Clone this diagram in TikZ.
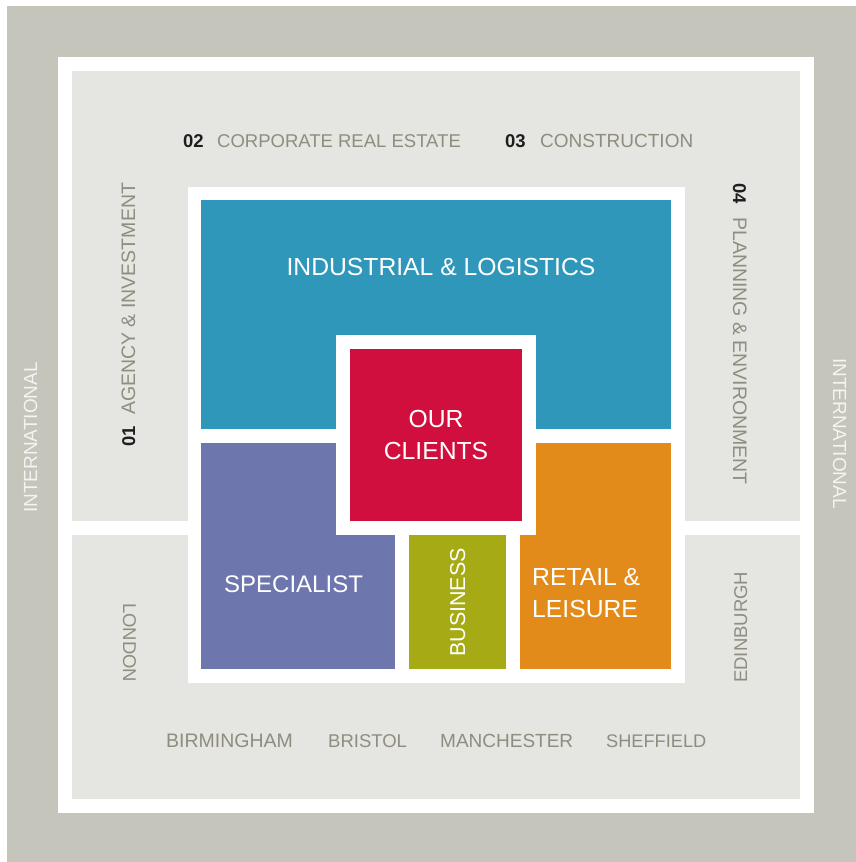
\documentclass[tikz,border=0pt]{standalone}
\usepackage{fontspec}
\setmainfont{Liberation Sans}
\definecolor{outerGrey}{HTML}{C6C5BC}
\definecolor{panelGrey}{HTML}{E5E5E1}
\definecolor{txtGrey}{HTML}{8E8D80}
\definecolor{numDark}{HTML}{1E1E1E}
\definecolor{blockBlue}{HTML}{2F97BA}
\definecolor{blockRed}{HTML}{D10F3F}
\definecolor{blockPurple}{HTML}{6E76AE}
\definecolor{blockGreen}{HTML}{A6AB15}
\definecolor{blockOrange}{HTML}{E28B1A}
\definecolor{softWhite}{HTML}{F4F4F0}
\begin{document}
\begin{tikzpicture}[x=1pt,y=-1pt,
  lbl/.style={text=txtGrey, font=\fontsize{18.5}{22}\selectfont, inner sep=0pt},
  sidelbl/.style={lbl, font=\fontsize{19.5}{22}\selectfont},
  numlbl/.style={text=numDark, font=\fontsize{18.5}{22}\selectfont\bfseries, inner sep=0pt},
  biglbl/.style={text=white, font=\fontsize{24.7}{29}\selectfont, inner sep=0pt},
  intl/.style={text=softWhite, font=\fontsize{19}{22}\selectfont, inner sep=0pt}]
\useasboundingbox (0,0) rectangle (856,862);
% background and frames
\fill[white] (0,0) rectangle (856,862);
\fill[outerGrey] (7,6) rectangle (856,862);
\fill[white] (58,57) rectangle (814,813);
\fill[panelGrey] (72,71) rectangle (800,521);
\fill[panelGrey] (72,535) rectangle (800,799);
% central block
\fill[white] (188,187) rectangle (685,683);
\fill[blockBlue] (201,200) rectangle (671,429);
\fill[blockPurple] (201,443) rectangle (395,669);
\fill[blockGreen] (409,535) rectangle (506,669);
\fill[blockOrange] (520,443) rectangle (671,669);
\fill[white] (336,335) rectangle (536,535);
\fill[blockRed] (350,349) rectangle (522,521);
% service lines along the top
\node[numlbl, anchor=base west] (n02) at (183,147) {02};
\node[lbl, anchor=base west] (cre) at (217,147) {CORPORATE REAL ESTATE};
\node[numlbl, anchor=base west] (n03) at (505,147) {03};
\node[lbl, anchor=base west, font=\fontsize{19}{22}\selectfont] (con) at (540,147) {CONSTRUCTION};
% service lines on the sides
\node[numlbl, rotate=90, anchor=base west] (n01) at (135,447) {01};
\node[sidelbl, rotate=90, anchor=base west] (agi) at (135,415) {AGENCY \& INVESTMENT};
\node[numlbl, rotate=-90, anchor=base west] (n04) at (733,183) {04};
\node[sidelbl, rotate=-90, anchor=base west] (pae) at (733,217) {PLANNING \& ENVIRONMENT};
% offices
\node[lbl, rotate=-90, anchor=base west] (lon) at (123,603) {LONDON};
\node[lbl, rotate=90, anchor=base west] (edi) at (747,683) {EDINBURGH};
\node[lbl, anchor=base west, font=\fontsize{19.5}{22}\selectfont] (bir) at (166,747) {BIRMINGHAM};
\node[lbl, anchor=base west] (bri) at (328,747) {BRISTOL};
\node[lbl, anchor=base west, font=\fontsize{19}{22}\selectfont] (man) at (440,747) {MANCHESTER};
\node[lbl, anchor=base west, font=\fontsize{18.2}{22}\selectfont] (she) at (606,747) {SHEFFIELD};
\node[intl, rotate=90, anchor=base west] (intL) at (37,513) {INTERNATIONAL};
\node[intl, rotate=-90, anchor=base west] (intR) at (833,358) {INTERNATIONAL};
% sectors
\node[biglbl, anchor=base] (ind) at (441,275) {INDUSTRIAL \& LOGISTICS};
\node[biglbl, anchor=base] (our) at (436,427) {OUR};
\node[biglbl, anchor=base] (cli) at (436,459) {CLIENTS};
\node[biglbl, anchor=base west, font=\fontsize{24}{29}\selectfont] (spe) at (224,592) {SPECIALIST};
\node[biglbl, anchor=base west] (ret) at (532,585) {RETAIL \&};
\node[biglbl, anchor=base west] (lei) at (532,617) {LEISURE};
\node[biglbl, rotate=90, anchor=base west, font=\fontsize{21.5}{26}\selectfont] (bus) at (465,657) {BUSINESS};
\end{tikzpicture}
\end{document}
